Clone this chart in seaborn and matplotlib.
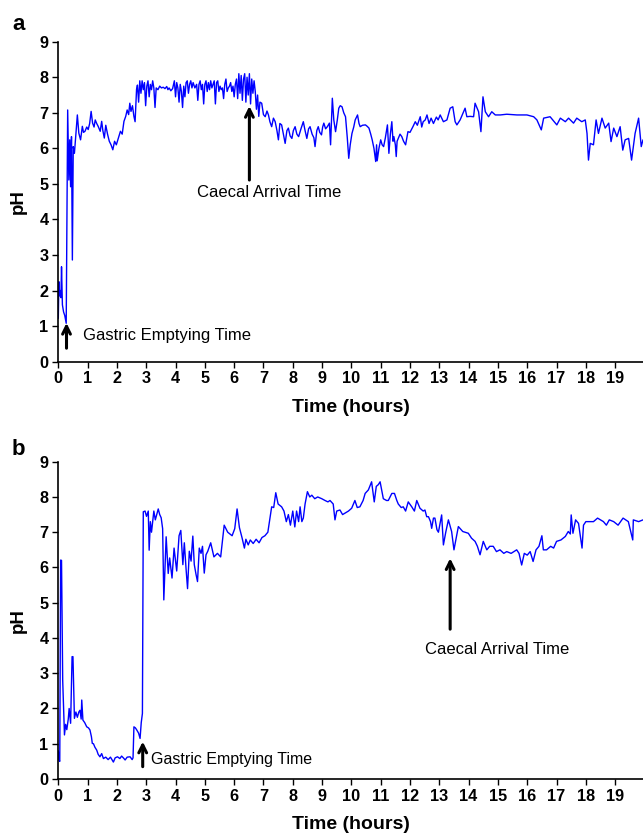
import matplotlib
matplotlib.use("Agg")
import matplotlib.pyplot as plt
import pandas as pd
import seaborn as sns

# ---------------- data ----------------
a_time = [0.00, 0.02, 0.05, 0.07, 0.09, 0.11, 0.14, 0.18, 0.22, 0.27,
          0.32, 0.36, 0.39, 0.42, 0.45, 0.48, 0.51, 0.55, 0.60, 0.65,
          0.70, 0.76, 0.82, 0.86, 0.91, 0.97, 1.02, 1.07, 1.12, 1.17,
          1.22, 1.26, 1.31, 1.36, 1.43, 1.48, 1.52, 1.57, 1.62, 1.68,
          1.74, 1.80, 1.86, 1.92, 1.98, 2.05, 2.12, 2.18, 2.24, 2.30,
          2.35, 2.40, 2.44, 2.48, 2.53, 2.58, 2.62, 2.67,
          2.70, 2.74, 2.78, 2.82, 2.86, 2.90, 2.94, 2.98, 3.02, 3.06,
          3.10, 3.14, 3.18, 3.22, 3.26, 3.30, 3.34, 3.40, 3.46, 3.52,
          3.58, 3.64, 3.70, 3.74, 3.78, 3.84, 3.90, 3.96, 4.00, 4.04,
          4.08, 4.12, 4.16, 4.20, 4.24, 4.28, 4.32, 4.36, 4.40, 4.44,
          4.48, 4.52, 4.56, 4.60, 4.66, 4.72, 4.76, 4.80, 4.84, 4.88,
          4.92, 4.96, 5.00, 5.04, 5.08, 5.12, 5.16, 5.20, 5.24, 5.28,
          5.32, 5.36, 5.40, 5.44, 5.48, 5.52, 5.56, 5.60, 5.64, 5.68,
          5.72, 5.76, 5.80, 5.84, 5.88, 5.92, 5.96, 6.00, 6.04, 6.08,
          6.12, 6.16, 6.20, 6.24, 6.28, 6.32, 6.36, 6.40, 6.44, 6.48,
          6.52, 6.56, 6.60, 6.64, 6.68, 6.72, 6.76, 6.80, 6.84, 6.88,
          6.94, 7.00, 7.06, 7.12, 7.17, 7.22, 7.28, 7.34, 7.40, 7.46,
          7.51, 7.56, 7.62, 7.68, 7.74, 7.80, 7.85, 7.91, 7.97, 8.02,
          8.08, 8.14, 8.20, 8.28, 8.36, 8.42, 8.48, 8.54, 8.59, 8.66,
          8.72, 8.76, 8.82, 8.87, 8.92, 8.98, 9.02, 9.06, 9.12, 9.18,
          9.25, 9.29, 9.35, 9.40, 9.46, 9.52, 9.57, 9.62, 9.68, 9.74,
          9.80, 9.86, 9.91, 9.96, 10.02, 10.08, 10.13, 10.21, 10.26, 10.30,
          10.38, 10.48, 10.54, 10.60, 10.66, 10.71, 10.77, 10.83, 10.86, 10.88,
          10.94, 11.00, 11.05, 11.10, 11.16, 11.23, 11.28, 11.33, 11.38, 11.42,
          11.45, 11.50, 11.53, 11.56, 11.60, 11.66, 11.72, 11.78, 11.85, 11.93,
          12.00, 12.10, 12.18, 12.25, 12.35, 12.40, 12.45, 12.52, 12.58, 12.65,
          12.72, 12.80, 12.90, 12.96,
          13.03, 13.14, 13.26, 13.37, 13.46, 13.54, 13.60, 13.71, 13.88, 13.94,
          14.05, 14.17, 14.22, 14.34, 14.42, 14.49, 14.57, 14.68, 14.79, 14.91,
          15.08, 15.30, 15.50, 15.65, 15.99, 16.22, 16.33, 16.48, 16.56, 16.78,
          17.01, 17.13, 17.30, 17.41, 17.58, 17.69, 17.86, 17.98, 18.04, 18.09,
          18.15, 18.26, 18.35, 18.43, 18.55, 18.66, 18.78, 18.86, 18.95, 19.06,
          19.17, 19.26, 19.34, 19.46, 19.56, 19.68, 19.80, 19.89, 19.95]
a_ph = [1.22, 2.25, 1.85, 2.00, 1.80, 2.67, 1.60, 1.40, 1.30, 1.08,
        7.08, 5.11, 6.24, 4.92, 6.33, 2.86, 6.05, 5.86, 6.40, 6.94,
        6.43, 6.24, 6.62, 6.45, 6.48, 6.60, 6.53, 6.70, 7.04, 6.71,
        6.60, 6.80, 6.70, 6.62, 6.48, 6.76, 6.50, 6.29, 6.65, 6.40,
        6.20, 6.10, 5.96, 6.20, 6.10, 6.29, 6.48, 6.40, 6.76, 6.90,
        7.08, 6.95, 7.27, 7.04, 7.20, 6.90, 6.75, 7.66,
        7.78, 7.30, 7.90, 7.55, 7.90, 7.65, 7.85, 7.20, 7.75, 7.90,
        7.45, 7.80, 7.65, 7.90, 7.70, 7.15, 7.70, 7.65, 7.75, 7.70,
        7.72, 7.68, 7.74, 7.65, 7.70, 7.62, 7.68, 7.90, 7.45, 7.85,
        7.70, 7.30, 7.80, 7.60, 7.15, 7.75, 7.45, 7.85, 7.90, 7.55,
        7.80, 7.90, 7.70, 7.85, 7.70, 7.80, 7.35, 7.80, 7.90, 7.65,
        7.80, 7.25, 7.80, 7.90, 7.60, 7.85, 7.65, 7.90, 7.70, 7.80,
        7.90, 7.25, 7.85, 7.90, 7.60, 7.75, 7.65, 7.70, 7.40, 7.80,
        7.95, 7.60, 7.70, 7.75, 7.85, 7.60, 7.75, 7.45, 7.80, 7.95,
        7.40, 8.10, 7.55, 8.05, 7.35, 7.95, 8.10, 7.30, 8.00, 7.50,
        8.10, 7.25, 7.95, 7.55, 7.90, 7.60, 7.10, 7.50, 6.90, 7.30,
        7.27, 6.95, 6.89, 7.05, 6.94, 6.75, 6.61, 6.85, 6.75, 6.50,
        6.24, 6.70, 6.66, 6.40, 6.14, 6.50, 6.57, 6.35, 6.28, 6.50,
        6.61, 6.40, 6.33, 6.55, 6.75, 6.50, 6.28, 6.55, 6.61, 6.40,
        6.30, 6.05, 6.50, 6.61, 6.45, 6.38, 6.60, 6.71, 6.55, 6.61,
        6.71, 6.10, 7.41, 6.80, 6.47, 6.80, 7.13, 7.20, 7.17, 7.00,
        6.89, 6.30, 5.72, 6.10, 6.42, 6.60, 6.80, 6.94, 6.70, 6.61,
        6.65, 6.66, 6.62, 6.57, 6.40, 6.24, 6.00, 5.63, 6.10, 5.65,
        6.00, 6.24, 6.10, 6.05, 6.30, 6.66, 5.86, 6.40, 6.75, 6.20,
        6.33, 6.10, 5.77, 6.20, 6.28, 6.40, 6.33, 6.20, 6.10, 6.47,
        6.45, 6.61, 6.75, 6.65, 6.89, 6.60, 6.75, 6.80, 6.94, 6.70,
        6.85, 6.70, 6.88, 6.80,
        6.94, 6.75, 6.80, 7.13, 7.17, 6.75, 6.66, 6.80, 7.13, 6.89,
        6.90, 6.89, 7.27, 7.03, 6.47, 7.45, 7.03, 6.89, 7.03, 6.94,
        6.94, 6.96, 6.95, 6.94, 6.94, 6.89, 6.80, 6.52, 6.85, 6.89,
        6.66, 6.85, 6.75, 6.85, 6.71, 6.85, 6.75, 6.80, 6.42, 5.67,
        6.14, 6.10, 6.80, 6.42, 6.85, 6.57, 6.71, 6.19, 6.57, 6.33,
        6.61, 5.95, 6.24, 6.28, 5.67, 6.42, 6.85, 6.05, 6.24]

b_time = [0.00, 0.02, 0.05, 0.08, 0.11, 0.15, 0.21, 0.25, 0.29, 0.34,
          0.37, 0.42, 0.47, 0.50, 0.55, 0.60, 0.65, 0.70, 0.74, 0.78,
          0.80, 0.84, 0.90, 0.97, 1.03, 1.08, 1.13, 1.16, 1.20, 1.25,
          1.31, 1.36, 1.42, 1.48, 1.54, 1.62, 1.70, 1.78, 1.88, 1.94,
          2.02, 2.10, 2.16, 2.22, 2.28, 2.35, 2.45, 2.52, 2.55, 2.58,
          2.63, 2.67, 2.74, 2.79, 2.83, 2.87, 2.90, 2.96, 3.01, 3.07,
          3.10, 3.14, 3.18, 3.22, 3.26, 3.31, 3.36, 3.41, 3.46, 3.51,
          3.56, 3.60, 3.68, 3.75, 3.80, 3.88, 3.95, 4.04, 4.12, 4.18,
          4.25, 4.30, 4.36, 4.41, 4.47, 4.53, 4.59, 4.64, 4.70, 4.75,
          4.81, 4.87, 4.92, 4.98, 5.04, 5.10, 5.20, 5.31, 5.43, 5.54,
          5.66, 5.78, 5.93, 6.02, 6.10, 6.18, 6.27, 6.35, 6.40, 6.48,
          6.55, 6.65, 6.75, 6.85, 6.95, 7.05, 7.15, 7.28, 7.35, 7.42,
          7.50, 7.62, 7.70, 7.78, 7.85, 7.92, 8.00, 8.07, 8.13, 8.20,
          8.25, 8.31, 8.36, 8.42, 8.50, 8.58, 8.65, 8.75, 8.85, 8.99,
          9.10, 9.20, 9.27, 9.38, 9.44, 9.50, 9.61, 9.70, 9.78, 9.90,
          10.01, 10.12, 10.20, 10.29, 10.40, 10.47, 10.58, 10.69, 10.78, 10.85,
          10.92, 10.98, 11.09, 11.20, 11.26, 11.38, 11.47, 11.55, 11.60, 11.70,
          11.77, 11.85, 11.94, 12.06, 12.15, 12.23, 12.34, 12.45, 12.51, 12.57,
          12.63, 12.70, 12.74, 12.80, 12.85, 12.92, 12.97, 13.08, 13.14, 13.22,
          13.31, 13.42, 13.50, 13.65, 13.80, 13.99, 14.10, 14.22, 14.30, 14.39,
          14.50, 14.62, 14.72, 14.84, 14.95, 15.07, 15.20, 15.30, 15.45, 15.64,
          15.72, 15.81, 15.90, 16.00, 16.10, 16.20, 16.30, 16.40, 16.50, 16.55,
          16.66, 16.80, 16.90, 17.00, 17.15, 17.30, 17.40, 17.47, 17.50, 17.56,
          17.65, 17.75, 17.87, 17.92, 18.00, 18.26, 18.40, 18.60, 18.70, 18.80,
          18.95, 19.10, 19.27, 19.45, 19.60, 19.62, 19.80, 19.95]
b_ph = [0.80, 0.54, 0.50, 6.21, 6.20, 2.80, 1.25, 1.55, 1.40, 1.70,
        2.00, 1.58, 3.47, 3.47, 1.72, 1.90, 1.75, 1.90, 1.95, 1.70,
        2.24, 1.67, 1.60, 1.48, 1.45, 1.39, 1.20, 1.01, 1.00, 0.90,
        0.82, 0.70, 0.63, 0.72, 0.58, 0.62, 0.55, 0.62, 0.48, 0.60,
        0.63, 0.58, 0.65, 0.60, 0.54, 0.62, 0.63, 0.55, 0.60, 1.48,
        1.45, 1.40, 1.30, 1.15, 1.60, 1.86, 7.58, 7.60, 7.45, 7.60,
        6.49, 7.30, 7.00, 7.30, 7.60, 7.35, 7.50, 7.66, 7.50, 7.41,
        7.10, 5.08, 6.87, 5.83, 6.27, 5.70, 6.55, 5.90, 6.90, 7.05,
        6.08, 6.70, 5.95, 5.40, 6.46, 6.18, 6.89, 6.08, 5.80, 5.60,
        6.55, 6.40, 6.60, 5.84, 6.36, 6.46, 6.70, 6.30, 6.40, 6.30,
        7.20, 7.00, 6.90, 7.10, 7.66, 7.13, 6.84, 6.55, 6.80, 6.64,
        6.78, 6.68, 6.80, 6.70, 6.85, 6.90, 7.00, 7.72, 7.70, 8.12,
        7.80, 7.72, 7.60, 7.30, 7.50, 7.20, 7.60, 7.15, 7.60, 7.30,
        7.72, 7.30, 7.40, 7.80, 8.15, 8.00, 8.05, 7.95, 8.00, 7.95,
        7.90, 7.86, 7.90, 7.80, 7.35, 7.60, 7.63, 7.50, 7.54, 7.60,
        7.68, 7.90, 7.70, 7.72, 7.90, 8.10, 8.20, 8.43, 7.86, 8.30,
        8.35, 8.43, 7.95, 7.90, 7.90, 8.10, 8.10, 7.90, 7.80, 7.70,
        7.72, 7.60, 7.86, 7.72, 7.60, 7.90, 7.68, 7.60, 7.63, 7.44,
        7.44, 7.30, 7.11, 7.40, 7.40, 7.07, 7.00, 7.49, 6.64, 7.00,
        7.35, 7.02, 6.50, 7.16, 7.02, 6.97, 6.83, 6.74, 6.60, 6.36,
        6.74, 6.50, 6.60, 6.60, 6.45, 6.50, 6.40, 6.45, 6.40, 6.50,
        6.40, 6.07, 6.40, 6.35, 6.45, 6.17, 6.50, 6.60, 6.90, 6.50,
        6.50, 6.60, 6.55, 6.74, 6.78, 6.88, 7.02, 6.95, 7.49, 6.97,
        7.35, 7.25, 6.55, 7.20, 7.30, 7.30, 7.40, 7.30, 7.20, 7.35,
        7.30, 7.20, 7.40, 7.30, 6.78, 7.35, 7.30, 7.35]

x_ticks = list(range(0, 20))
y_ticks = list(range(0, 10))

# ---------------- figure ----------------
sns.set_style("ticks")
plt.rcParams["font.family"] = ["Liberation Sans", "DejaVu Sans"]
plt.rcParams["text.color"] = "black"
plt.rcParams["axes.labelcolor"] = "black"
plt.rcParams["xtick.color"] = "black"
plt.rcParams["ytick.color"] = "black"
plt.rcParams["xtick.labelcolor"] = "black"
plt.rcParams["ytick.labelcolor"] = "black"

W, H = 643, 834
fig = plt.figure(figsize=(W / 100, H / 100), dpi=100)

def px_axes(left, top, bottom):
    return fig.add_axes([left / W, 1 - bottom / H, (W - left) / W, (bottom - top) / H])

ax_a = px_axes(58.3, 41.7, 361.7)
ax_b = px_axes(58.3, 461.7, 779.0)

panels = [
    (ax_a, a_time, a_ph, "a", 30),
    (ax_b, b_time, b_ph, "b", 455),
]

for ax, t, ph, letter, base_y in panels:
    df = pd.DataFrame({"time": t, "pH": ph})
    sns.lineplot(data=df, x="time", y="pH", ax=ax, color="#0000FF",
                 linewidth=1.0, estimator=None, sort=False)
    ax.set_xlim(0, 19.95)
    ax.set_ylim(0, 9)
    ax.set_xticks(x_ticks, [str(v) for v in x_ticks], fontweight="bold",
                  color="black")
    ax.set_yticks(y_ticks, [str(v) for v in y_ticks], fontweight="bold",
                  color="black")
    ax.tick_params(axis="both", direction="out", length=4, width=1.0,
                   labelsize=11.7, pad=3, color="black")
    sns.despine(ax=ax)
    for s in ("left", "bottom"):
        ax.spines[s].set_linewidth(1.2)
        ax.spines[s].set_color("black")
    ax.set_xlabel("Time (hours)", fontsize=14, fontweight="bold", color="black")
    ax.xaxis.label.set_va("center")
    ax.xaxis.set_label_coords(0.5, -46 / 318)
    ax.set_ylabel("pH", fontsize=13.5, fontweight="bold", color="black")
    ax.yaxis.label.set_va("center")
    ax.yaxis.set_label_coords(-39.5 / 585, 0.5)
    fig.text(12 / W, 1 - base_y / H, letter, fontsize=16, fontweight="bold",
             ha="left", va="baseline", color="black")

arrow_kw = dict(arrowstyle="->", lw=2.2, color="black", mutation_scale=14,
                shrinkA=0, shrinkB=0)

# panel a annotations
ax_a.annotate("", xy=(0.28, 1.09), xytext=(0.28, 0.38), arrowprops=arrow_kw)
ax_a.text(0.83, 0.75, "Gastric Emptying Time", fontsize=12, ha="left",
          va="center", color="black")
ax_a.annotate("", xy=(6.52, 7.19), xytext=(6.52, 5.11), arrowprops=arrow_kw)
ax_a.text(7.2, 4.75, "Caecal Arrival Time", fontsize=12, ha="center",
          va="center", color="black")

# panel b annotations
ax_b.annotate("", xy=(2.88, 1.06), xytext=(2.88, 0.35), arrowprops=arrow_kw)
ax_b.text(3.15, 0.54, "Gastric Emptying Time", fontsize=11.5, ha="left",
          va="center", color="black")
ax_b.annotate("", xy=(13.37, 6.26), xytext=(13.37, 4.25), arrowprops=arrow_kw)
ax_b.text(14.97, 3.68, "Caecal Arrival Time", fontsize=12, ha="center",
          va="center", color="black")

fig.savefig("out.png", dpi=100)
